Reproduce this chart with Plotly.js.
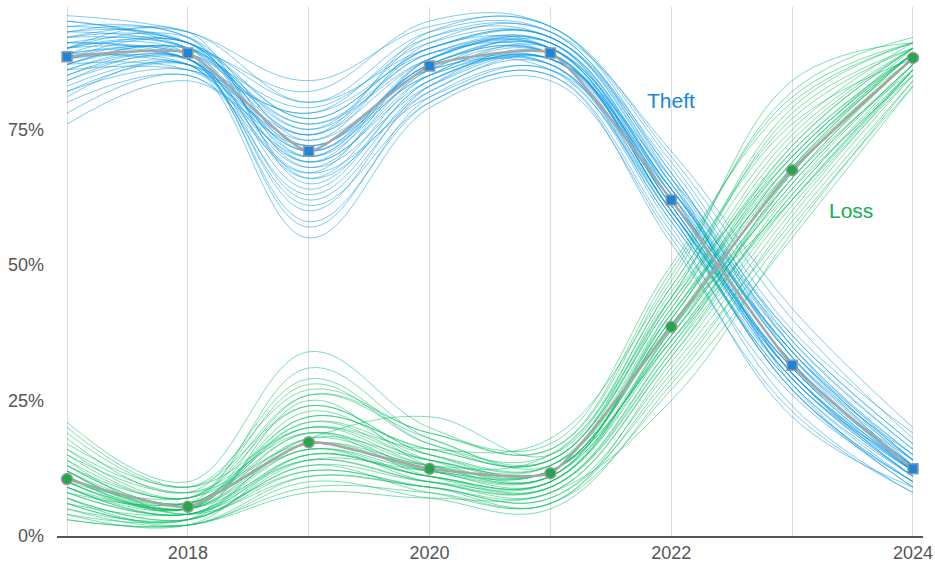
<!DOCTYPE html>
<html>
<head>
<meta charset="utf-8">
<script src="https://cdn.plot.ly/plotly-3.0.1.min.js"></script>
<style>html,body{margin:0;padding:0;background:#fff}#chart{width:935px;height:567px}</style>
</head>
<body>
<div id="chart"></div>
<script>
const years = [2017, 2018, 2019, 2020, 2021, 2022, 2023, 2024];
const yTicks = [0, 25, 50, 75];
const xTicks = [2018, 2020, 2022, 2024];

const theftMean = [88.4, 89.1, 71.0, 86.7, 89.1, 62.0, 31.5, 12.4];
const lossMean  = [10.5, 5.4, 17.3, 12.4, 11.6, 38.6, 67.5, 88.2];

const theftSamples = [
  [95, 91, 80, 90, 92, 66, 35, 15],
  [92, 90, 76, 88, 91, 64, 33, 13],
  [86, 88, 66, 85, 89, 60, 29, 11],
  [90, 92, 73, 91, 93, 65, 30, 12],
  [83, 87, 69, 84, 88, 63, 34, 14],
  [88, 89, 62, 82, 87, 58, 28, 10],
  [96, 93, 84, 94, 94, 70, 40, 18],
  [80, 85, 70, 87, 90, 61, 31, 12],
  [91, 88, 72, 86, 86, 59, 27, 9],
  [87, 90, 75, 89, 90, 62, 32, 13],
  [93, 91, 68, 83, 88, 64, 36, 16],
  [85, 88, 58, 80, 85, 56, 26, 10],
  [89, 87, 78, 92, 92, 67, 33, 12],
  [94, 92, 71, 87, 89, 61, 30, 11],
  [82, 86, 74, 88, 91, 63, 29, 13],
  [90, 90, 64, 84, 87, 60, 31, 14],
  [76, 84, 72, 85, 88, 62, 34, 12],
  [92, 93, 80, 93, 93, 66, 28, 9],
  [86, 89, 70, 88, 90, 64, 33, 15],
  [88, 87, 67, 81, 86, 57, 24, 8],
  [91, 91, 77, 90, 92, 65, 37, 17],
  [84, 88, 60, 83, 89, 60, 30, 12],
  [89, 90, 82, 95, 94, 69, 38, 19],
  [87, 86, 73, 86, 87, 59, 27, 10],
  [93, 92, 66, 82, 88, 63, 32, 13],
  [81, 87, 55, 79, 84, 55, 22, 9],
  [90, 89, 76, 89, 91, 62, 30, 11],
  [88, 91, 69, 85, 90, 64, 35, 14],
  [95, 90, 74, 90, 90, 61, 29, 12],
  [85, 88, 71, 87, 89, 60, 31, 13],
  [91, 89, 79, 91, 92, 68, 36, 16],
  [84, 87, 63, 83, 88, 59, 28, 11],
  [89, 91, 70, 86, 91, 64, 34, 14],
  [78, 85, 67, 88, 90, 62, 32, 12],
  [93, 90, 75, 92, 93, 71, 42, 20],
  [87, 88, 61, 80, 85, 54, 23, 8],
  [92, 91, 72, 87, 90, 63, 30, 13],
  [86, 86, 78, 89, 89, 60, 27, 10],
  [90, 93, 65, 84, 88, 66, 37, 17],
  [88, 88, 69, 88, 91, 61, 31, 12],
  [94, 91, 77, 90, 92, 65, 33, 14],
  [82, 87, 71, 85, 87, 58, 29, 11],
  [90, 89, 57, 81, 86, 62, 34, 15],
  [87, 90, 74, 93, 94, 67, 35, 13],
  [89, 88, 68, 86, 89, 60, 30, 12]
];

const lossSamples = [
  [14, 7, 24, 15, 13, 42, 72, 90],
  [8, 4, 15, 11, 10, 36, 65, 87],
  [18, 8, 29, 17, 14, 45, 75, 91],
  [5, 3, 12, 9, 8, 33, 62, 86],
  [11, 6, 20, 14, 12, 40, 70, 89],
  [3, 2, 9, 8, 6, 30, 58, 84],
  [12, 5, 18, 13, 15, 44, 78, 90],
  [9, 4, 16, 10, 9, 35, 63, 87],
  [16, 7, 26, 18, 13, 41, 68, 88],
  [7, 3, 14, 12, 11, 37, 66, 86],
  [21, 10, 34, 20, 16, 48, 82, 92],
  [10, 5, 17, 13, 12, 39, 69, 89],
  [6, 2, 10, 7, 5, 28, 57, 83],
  [13, 6, 22, 16, 14, 43, 74, 90],
  [4, 3, 13, 10, 10, 38, 64, 85],
  [15, 8, 19, 11, 9, 34, 67, 88],
  [9, 5, 21, 15, 13, 40, 71, 89],
  [11, 4, 11, 9, 7, 31, 60, 86],
  [19, 9, 27, 19, 17, 50, 80, 91],
  [8, 6, 16, 12, 12, 36, 65, 87],
  [12, 5, 23, 14, 11, 42, 73, 90],
  [3, 2, 8, 7, 8, 25, 56, 84],
  [10, 7, 18, 22, 15, 46, 76, 88],
  [14, 4, 15, 11, 10, 37, 68, 89],
  [7, 3, 25, 13, 12, 39, 62, 86],
  [17, 9, 20, 16, 18, 47, 84, 91],
  [9, 5, 14, 10, 9, 35, 66, 88],
  [12, 6, 31, 18, 14, 44, 70, 90],
  [6, 4, 12, 9, 6, 32, 61, 85],
  [11, 5, 19, 12, 11, 41, 69, 89],
  [13, 6, 21, 14, 13, 43, 71, 89],
  [5, 2, 11, 9, 7, 29, 59, 85],
  [15, 7, 28, 17, 15, 46, 77, 90],
  [9, 4, 17, 12, 10, 38, 67, 88],
  [20, 9, 24, 15, 12, 40, 72, 90],
  [7, 3, 13, 8, 6, 27, 55, 83],
  [12, 6, 19, 13, 12, 39, 68, 89],
  [10, 5, 22, 16, 14, 44, 79, 91],
  [4, 2, 15, 11, 9, 34, 63, 86],
  [16, 8, 17, 12, 11, 37, 66, 88],
  [11, 5, 26, 19, 16, 49, 81, 91],
  [8, 4, 14, 10, 8, 33, 64, 87],
  [13, 7, 20, 13, 11, 41, 70, 89],
  [6, 3, 18, 14, 12, 36, 62, 86],
  [10, 5, 16, 11, 10, 38, 69, 88]
];

const theftColor = 'rgba(0,150,230,0.5)';
const lossColor = 'rgba(0,190,95,0.5)';

const traces = [];
theftSamples.forEach(s => traces.push({
  x: years, y: s, type: 'scatter', mode: 'lines',
  line: {color: theftColor, width: 1, shape: 'spline', smoothing: 1.1},
  hoverinfo: 'skip', showlegend: false
}));
lossSamples.forEach(s => traces.push({
  x: years, y: s, type: 'scatter', mode: 'lines',
  line: {color: lossColor, width: 1, shape: 'spline', smoothing: 1.1},
  hoverinfo: 'skip', showlegend: false
}));
traces.push({
  x: years, y: theftMean, type: 'scatter', mode: 'lines+markers', name: 'Theft',
  line: {color: '#a6a6a6', width: 2.5, shape: 'spline', smoothing: 0.5},
  marker: {symbol: 'square', size: 10, color: '#1a86e0', line: {color: '#9a9a9a', width: 1.5}},
  showlegend: false
});
traces.push({
  x: years, y: lossMean, type: 'scatter', mode: 'lines+markers', name: 'Loss',
  line: {color: '#a6a6a6', width: 2.5, shape: 'spline', smoothing: 0.5},
  marker: {symbol: 'circle', size: 11, color: '#22a84a', line: {color: '#9a9a9a', width: 1.5}},
  showlegend: false
});

const layout = {
  width: 935, height: 567,
  margin: {l: 57, r: 12, t: 7, b: 31},
  paper_bgcolor: '#fff', plot_bgcolor: '#fff',
  font: {family: 'Liberation Sans, Arial, sans-serif', color: '#555'},
  xaxis: {
    range: [2016.917, 2024.083],
    tickvals: xTicks, ticktext: xTicks.map(String),
    showgrid: false, zeroline: false,
    showline: true, linecolor: '#555', linewidth: 1.5,
    ticks: '', tickfont: {size: 18, color: '#555'},
    minor: {dtick: 1, tick0: 2017, showgrid: true, gridcolor: '#dcdcdc', gridwidth: 1}
  },
  yaxis: {
    range: [0, 97.6],
    tickvals: yTicks, ticktext: yTicks.map(v => v + '%'),
    showgrid: false, zeroline: false, showline: false,
    ticks: '', tickfont: {size: 18, color: '#555'},
    ticklabelstandoff: 12
  },
  annotations: [
    {x: 2022.0, y: 80.3, xref: 'x', yref: 'y', text: 'Theft', showarrow: false,
     font: {size: 21, color: '#1a86d8'}},
    {x: 2023.49, y: 60.1, xref: 'x', yref: 'y', text: 'Loss', showarrow: false,
     font: {size: 21, color: '#12b04e'}}
  ],
  showlegend: false
};

Plotly.newPlot('chart', traces, layout, {displayModeBar: false, staticPlot: true});
</script>
</body>
</html>
